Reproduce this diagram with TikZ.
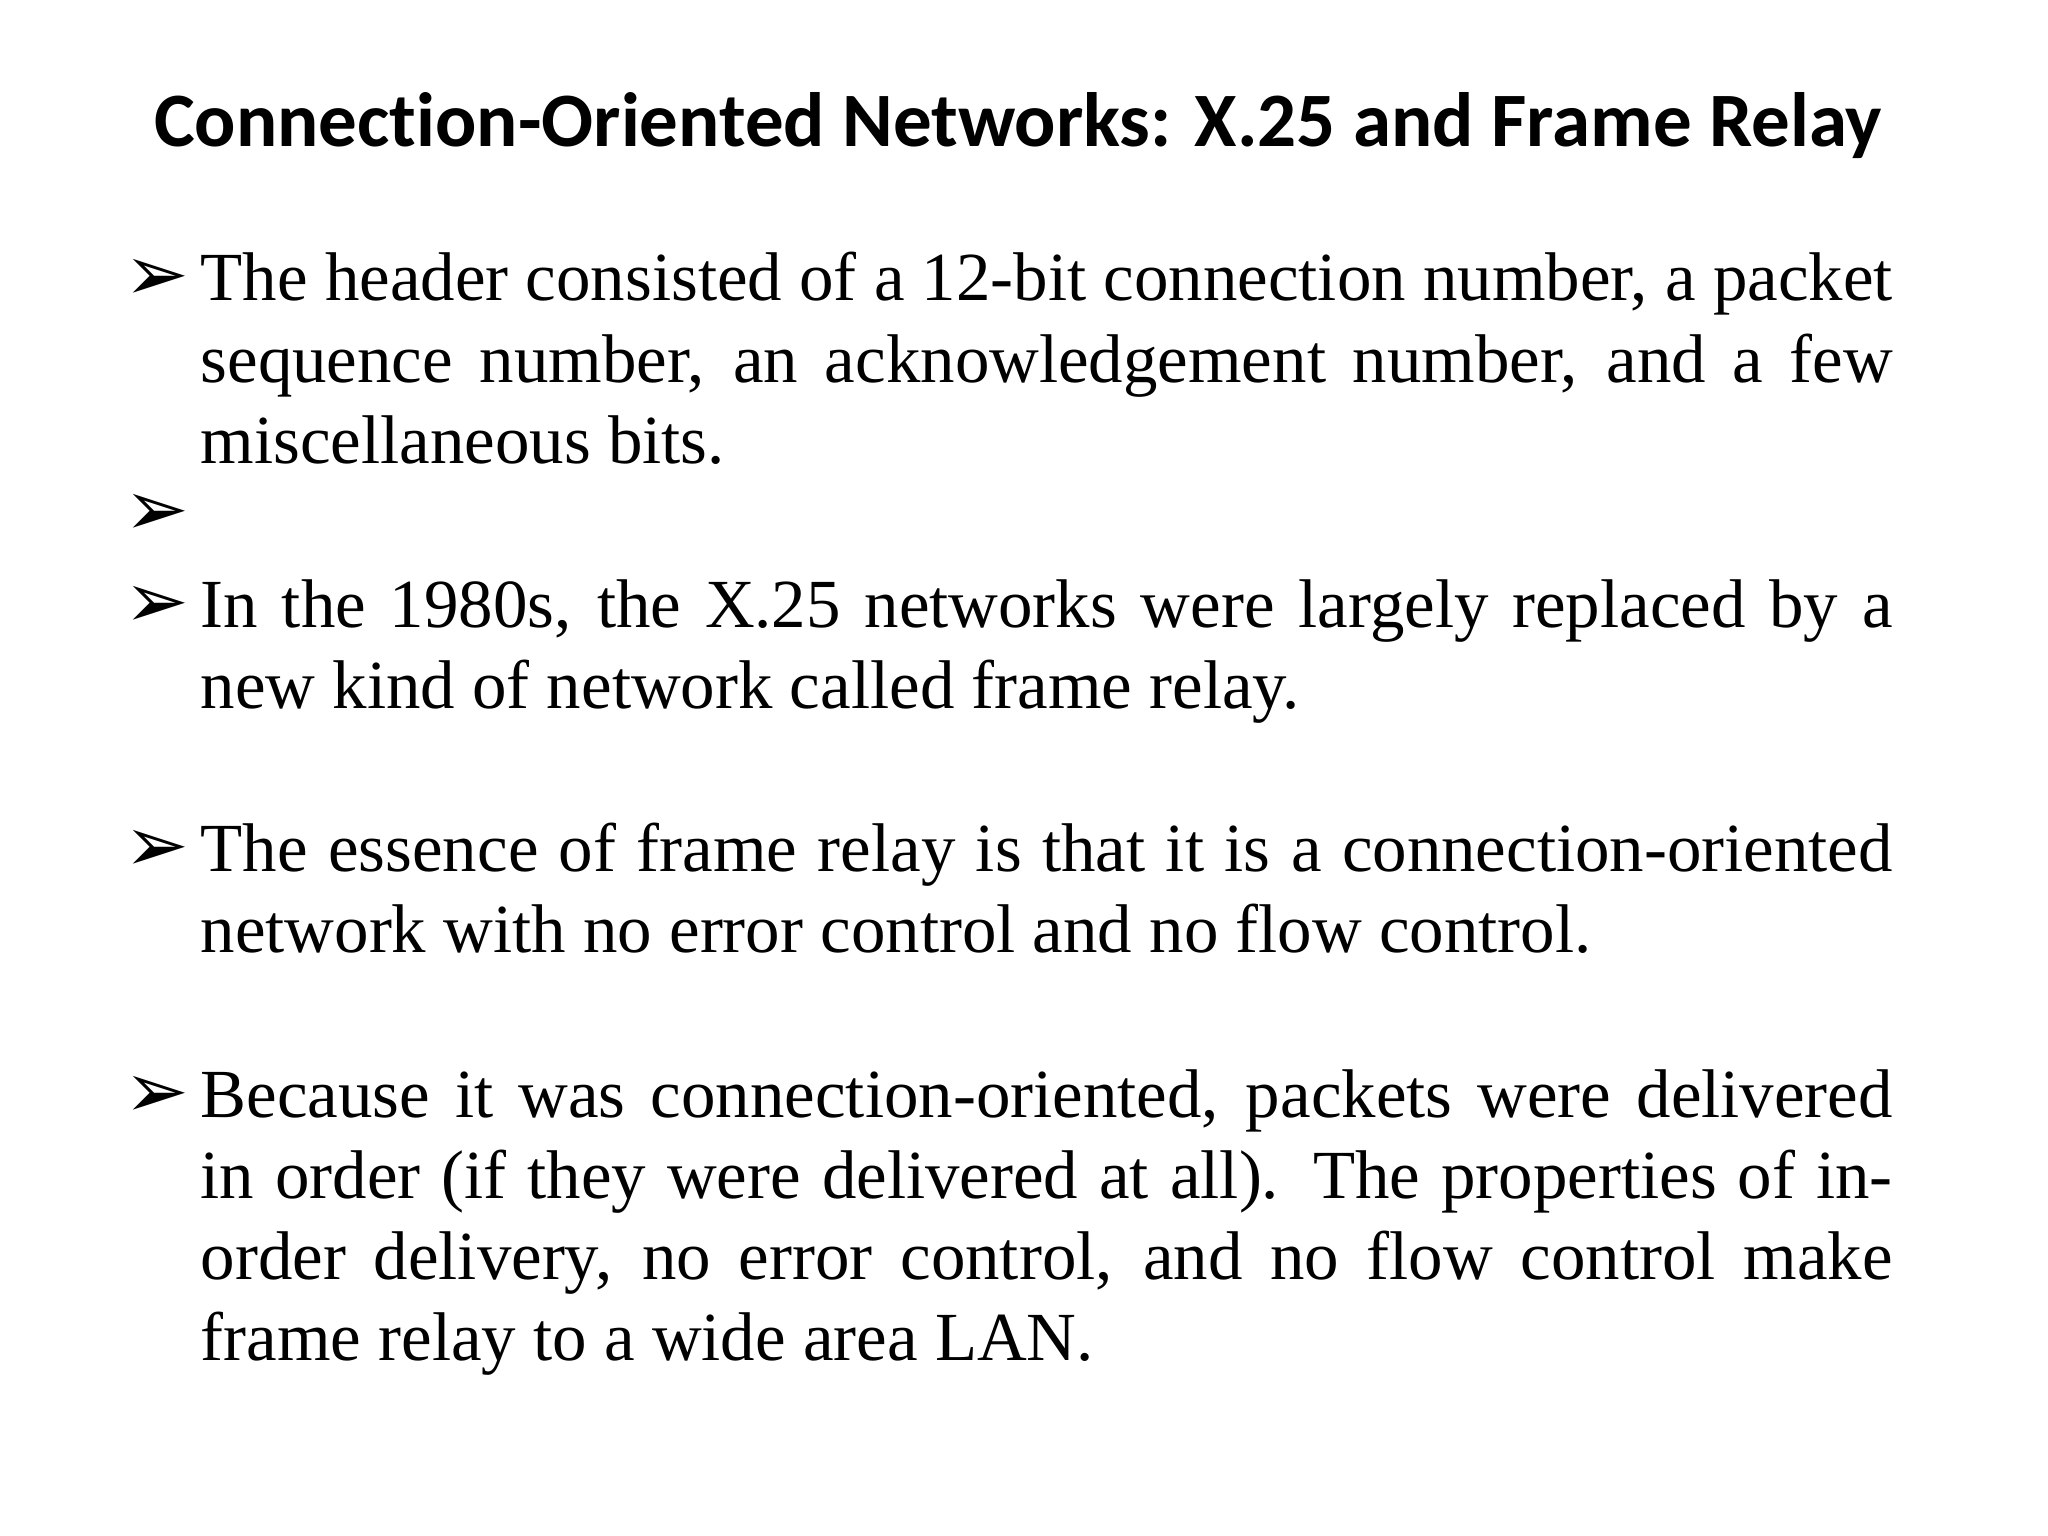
\documentclass[tikz,border=0pt]{standalone}
\usepackage{fontspec}
\setmainfont{Liberation Serif}
\newfontfamily\titlefont[Ligatures=NoCommon]{Carlito}
\newfontfamily\symfont{DejaVu Sans}
\begin{document}
\begin{tikzpicture}[x=1cm,y=-1cm,
  para/.style={anchor=base west,inner sep=0pt,text width=16.92cm,align=justify,font=\fontsize{19.6}{23.1}\selectfont},
  bul/.style={anchor=base west,inner sep=0pt,font=\symfont\bfseries\fontsize{22}{24}\selectfont}]
\fill[white] (0,0) rectangle (20.48,15.36);
\node[inner sep=0pt,anchor=base,font=\titlefont\bfseries\fontsize{21.9}{26}\selectfont] (title) at (10.18,1.47) {Connection-Oriented Networks: X.25 and Frame Relay};
\node[bul] (b1) at (1.24,3.01) {➢};
\node[para] (p1) at (2.0,3.01) {The header consisted of a 12-bit connection number, a packet\linebreak sequence number, an acknowledgement number, and a few\linebreak miscellaneous bits.};
\node[bul] (b2) at (1.24,5.36) {➢};
\node[bul] (b3) at (1.24,6.27) {➢};
\node[para] (p3) at (2.0,6.27) {In the 1980s, the X.25 networks were largely replaced by a\linebreak new kind of network called frame relay.};
\node[bul] (b4) at (1.24,8.71) {➢};
\node[para] (p4) at (2.0,8.71) {The essence of frame relay is that it is a connection-oriented\linebreak network with no error control and no flow control.};
\node[bul] (b5) at (1.24,11.17) {➢};
\node[para] (p5) at (2.0,11.17) {Because it was connection-oriented, packets were delivered\linebreak in order (if they were delivered at all). The properties of in-\linebreak order delivery, no error control, and no flow control make\linebreak frame relay to a wide area LAN.};
\end{tikzpicture}
\end{document}
